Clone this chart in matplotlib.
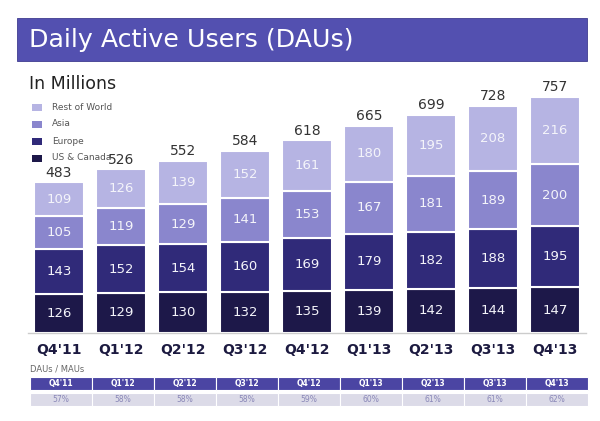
import matplotlib
matplotlib.use("Agg")
import matplotlib.pyplot as plt
from matplotlib.patches import Rectangle
import numpy as np

quarters = ["Q4'11", "Q1'12", "Q2'12", "Q3'12", "Q4'12", "Q1'13", "Q2'13", "Q3'13", "Q4'13"]
us_canada = [126, 129, 130, 132, 135, 139, 142, 144, 147]
europe = [143, 152, 154, 160, 169, 179, 182, 188, 195]
asia = [105, 119, 129, 141, 153, 167, 181, 189, 200]
rest_world = [109, 126, 139, 152, 161, 180, 195, 208, 216]
totals = [483, 526, 552, 584, 618, 665, 699, 728, 757]
dau_mau = ["57%", "58%", "58%", "58%", "59%", "60%", "61%", "61%", "62%"]

series = [("US & Canada", us_canada, "#1d1849"),
          ("Europe", europe, "#302a79"),
          ("Asia", asia, "#8a86cd"),
          ("Rest of World", rest_world, "#b6b4e3")]

W, H = 600, 421
fig = plt.figure(figsize=(6, 4.21), dpi=100)
fig.patch.set_facecolor("white")

def fx(px):
    return px / W

def fy(py):
    return 1 - py / H

# Banner
fig.patches.append(Rectangle((fx(17), fy(61)), fx(570), (61 - 18) / H,
                             transform=fig.transFigure, facecolor="#5350b0",
                             edgecolor="#3f3c90", lw=0.6))
fig.text(fx(29), fy(40), "Daily Active Users (DAUs)", color="white",
         fontsize=18.2, va="center", ha="left")
fig.text(fx(29), fy(84), "In Millions", color="#222222", fontsize=12.5,
         va="center", ha="left")

# Bars axis
ax_left, ax_right = 28, 586
base_y, top_y = 333, 80
ax = fig.add_axes([fx(ax_left), fy(base_y), fx(ax_right - ax_left), (base_y - top_y) / H])
ymax = (base_y - top_y) / ((base_y - 97) / 757)
x = np.arange(len(quarters))
bottom = np.zeros(len(quarters))
for name, vals, col in series:
    vals = np.array(vals)
    ax.bar(x, vals, bottom=bottom, width=0.8, color=col, edgecolor="white",
           linewidth=1.5, zorder=2)
    for xi, b, v in zip(x, bottom, vals):
        ax.text(xi, b + v / 2, str(v), ha="center", va="center", color="#f4f4fa",
                fontsize=9.5, zorder=3)
    bottom = bottom + vals
for xi, t, b in zip(x, totals, bottom):
    ax.text(xi, b + 8, str(t), ha="center", va="bottom", color="#333333",
            fontsize=10)
ax.set_xlim(-0.5, len(quarters) - 0.5)
ax.set_ylim(0, ymax)
ax.set_xticks(x)
ax.set_xticklabels(quarters, fontweight="bold", fontsize=10, color="#1c1a40")
ax.tick_params(axis="x", length=0, pad=7)
ax.set_yticks([])
for s in ["top", "right", "left"]:
    ax.spines[s].set_visible(False)
ax.spines["bottom"].set_color("#cccccc")
ax.spines["bottom"].set_linewidth(1)
ax.patch.set_alpha(0)

# Legend (manual)
leg_y = [107, 124, 141, 158]
for (name, vals, col), ly in zip(series[::-1], leg_y):
    fig.patches.append(Rectangle((fx(32), fy(ly + 4)), fx(10), 7 / H,
                                 transform=fig.transFigure, facecolor=col,
                                 edgecolor="none"))
    fig.text(fx(52), fy(ly), name, fontsize=6.5, color="#555555",
             va="center", ha="left")

# Table
fig.text(fx(30), fy(369), "DAUs / MAUs", fontsize=6, color="#666666",
         va="center", ha="left")
tx0, tx1 = 30, 588
cw = (tx1 - tx0) / len(quarters)
for i, (q, r) in enumerate(zip(quarters, dau_mau)):
    cx = tx0 + i * cw
    fig.patches.append(Rectangle((fx(cx), fy(390)), fx(cw), 13 / H,
                                 transform=fig.transFigure, facecolor="#4b45a3",
                                 edgecolor="white", lw=0.8))
    fig.patches.append(Rectangle((fx(cx), fy(406)), fx(cw), 13 / H,
                                 transform=fig.transFigure, facecolor="#dcdbe8",
                                 edgecolor="white", lw=0.8))
    fig.text(fx(cx + cw / 2), fy(383.5), q, fontsize=5.5, color="white",
             fontweight="bold", ha="center", va="center")
    fig.text(fx(cx + cw / 2), fy(399.5), r, fontsize=5.5, color="#8a88b8",
             ha="center", va="center")

fig.savefig("out.png", dpi=100)
